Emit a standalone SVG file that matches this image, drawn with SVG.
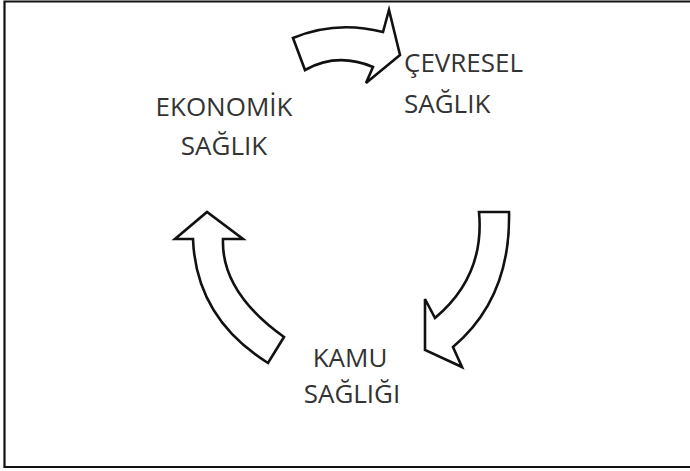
<svg xmlns="http://www.w3.org/2000/svg" width="690" height="471" viewBox="0 0 690 471">
  <style>
    .frame { fill: none; stroke: #111; stroke-width: 2.2; }
    .arrow { fill: #fff; stroke: #111; stroke-width: 2.6; stroke-linejoin: miter; }
    .label { font-family: "Open Sans", "Noto Sans", sans-serif; font-size: 26px; fill: #333; }
  </style>
  <rect width="690" height="471" fill="#fff"/>
  <path class="frame" d="M 692 1.5 H 4.5 V 467 H 692"/>

  <g id="connectors">
    <!-- economic -> environmental -->
    <path id="arrow-top" class="arrow" d="M 293 38 Q 336 20 383 32 L 389 10 L 400 55 L 366 83 L 373 67 Q 337 52 305 70 Z"/>
    <!-- environmental -> public -->
    <path id="arrow-right" class="arrow" d="M 479 212 L 509 212 Q 511 298 453 347 L 462 367 L 425 350 L 425 299 L 435 318 Q 485 276 479 212 Z"/>
    <!-- public -> economic -->
    <path id="arrow-left" class="arrow" d="M 268 363 Q 196 318 193 239 L 175 239 L 207 212 L 243 239 L 223 239 Q 221 292 284 337 Z"/>
  </g>

  <g id="node-ekonomik">
    <text class="label" x="224" y="116" text-anchor="middle">EKONOMİK</text>
    <text class="label" x="224" y="155" text-anchor="middle">SAĞLIK</text>
  </g>
  <g id="node-cevresel">
    <text class="label" x="404" y="72">ÇEVRESEL</text>
    <text class="label" x="404" y="113">SAĞLIK</text>
  </g>
  <g id="node-kamu">
    <text class="label" x="350" y="367" text-anchor="middle">KAMU</text>
    <text class="label" x="352" y="403" text-anchor="middle">SAĞLIĞI</text>
  </g>
</svg>
